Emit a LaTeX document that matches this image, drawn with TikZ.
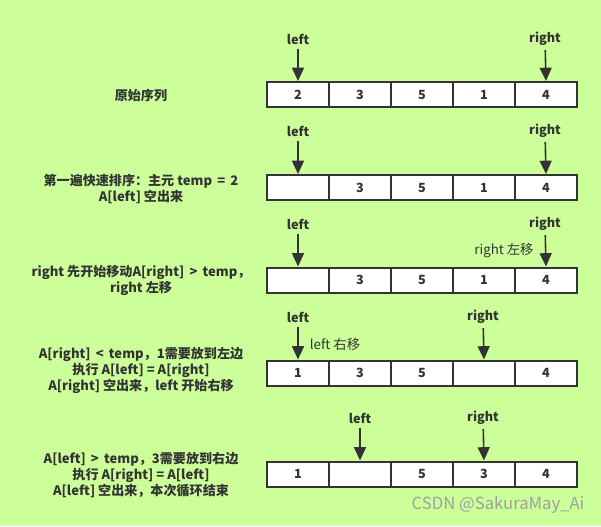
\documentclass[tikz,border=0pt]{standalone}
\usepackage{fontspec}
\setmainfont{Noto Sans CJK SC}
\usetikzlibrary{positioning,arrows.meta}
\definecolor{limebg}{RGB}{204,255,153}
\definecolor{inkgray}{RGB}{51,51,51}
\definecolor{markgray}{RGB}{160,160,160}

\begin{document}
\begin{tikzpicture}[x=0.75pt,y=-0.75pt,
  cell/.style={rectangle,draw=inkgray,line width=1.5pt,fill=white,minimum width=46.5pt,
    minimum height=18.75pt,inner sep=0pt,font=\bfseries\fontsize{9.5}{11}\selectfont,text=inkgray},
  ptrlabel/.style={font=\bfseries\fontsize{9.5}{11}\selectfont,text=inkgray,inner sep=3pt},
  ptr/.style={draw=inkgray,line width=1.2pt,-{Triangle[width=9pt,length=10pt]}},
  step note/.style={font=\bfseries\fontsize{9.8}{12}\selectfont,text=inkgray,align=center},
  side note/.style={font=\fontsize{10}{12}\selectfont,text=inkgray}]
\fill[limebg] (0,0) rectangle (601,526);
\useasboundingbox (0,0) rectangle (601,526);

% row 1
\node[step note] (n1) at (141,96) {原始序列};
\foreach \v [count=\i] in {2,3,5,1,4}
  \node[cell] (a\i) at ({236+62*\i},94.5) {\v};
\node[ptrlabel] (la) at (298,39) {left};
\node[ptrlabel] (ra) at (545,39) {right};
\draw[ptr] (la) -- (a1.north);
\draw[ptr] (ra) -- (a5.north);

% row 2
\node[step note] (n2) at (141,189) {第一遍快速排序：主元 temp \,=\, 2\\A[left] 空出来};
\foreach \v [count=\i] in {{},3,5,1,4}
  \node[cell] (b\i) at ({236+62*\i},187.5) {\v};
\node[ptrlabel] (lb) at (298,131) {left};
\node[ptrlabel] (rb) at (545,131) {right};
\draw[ptr] (lb) -- (b1.north);
\draw[ptr] (rb) -- (b5.north);

% row 3
\node[step note] (n3) at (141,280) {right 先开始移动A[right] \,>\, temp，\\right 左移};
\foreach \v [count=\i] in {{},3,5,1,4}
  \node[cell] (c\i) at ({236+62*\i},280) {\v};
\node[ptrlabel] (lc) at (298,224) {left};
\node[ptrlabel] (rc) at (545,224) {right};
\draw[ptr] (lc) -- (c1.north);
\draw[ptr] (rc) -- (c5.north);
\node[side note] (mc) at (504,251) {right 左移};

% row 4
\node[step note] (n4) at (141,370) {A[right] \,<\, temp，1需要放到左边\\执行 A[left] = A[right]\\A[right] 空出来，left 开始右移};
\foreach \v [count=\i] in {1,3,5,{},4}
  \node[cell] (d\i) at ({236+62*\i},373) {\v};
\node[ptrlabel] (ld) at (298,317) {left};
\node[ptrlabel] (rd) at (483,317) {right};
\draw[ptr] (ld) -- (d1.north);
\draw[ptr] (rd) -- (d4.north);
\node[side note] (md) at (335,344) {left 右移};

% row 5
\node[step note] (n5) at (141,475) {A[left] \,>\, temp，3需要放到右边\\执行 A[right] = A[left]\\A[left] 空出来，本次循环结束};
\foreach \v [count=\i] in {1,{},5,3,4}
  \node[cell] (e\i) at ({236+62*\i},474) {\v};
\node[ptrlabel] (le) at (360,418) {left};
\node[ptrlabel] (re) at (483,418) {right};
\draw[ptr] (le) -- (e2.north);
\draw[ptr] (re) -- (e4.north);

\node[font=\fontsize{12.5}{14}\selectfont,text=markgray] (mark) at (498,505) {CSDN @SakuraMay\_Ai};
\end{tikzpicture}
\end{document}
